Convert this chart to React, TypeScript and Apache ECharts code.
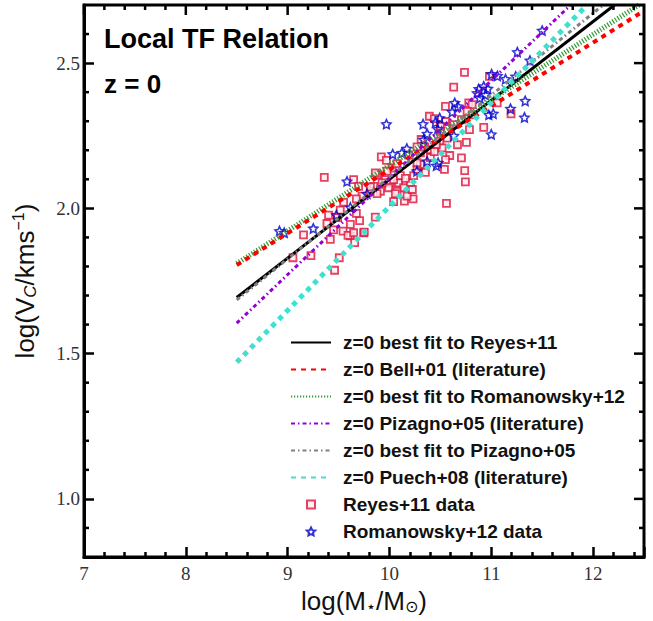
import React, { useEffect, useRef } from "react";
import * as echarts from "echarts";

const xMajorTicks = [7, 8, 9, 10, 11, 12];
const xMinorTicks = [7.2, 7.4, 7.6, 7.8, 8.2, 8.4, 8.6, 8.8, 9.2, 9.4, 9.6, 9.8, 10.2, 10.4, 10.6, 10.8, 11.2, 11.4, 11.6, 11.8, 12.2, 12.4];
const yMajorTicks = [1.0, 1.5, 2.0, 2.5];
const yMinorTicks = [0.9, 1.1, 1.2, 1.3, 1.4, 1.6, 1.7, 1.8, 1.9, 2.1, 2.2, 2.3, 2.4, 2.6];

// Fit / literature relations (endpoints)
const reyesFit = [[8.5, 1.693], [12.21, 2.7]];
const bellLit = [[8.5, 1.805], [12.5, 2.68]];
const romanowskyFit = [[8.5, 1.81], [12.45, 2.7]];
const pizagnoLit = [[8.5, 1.605], [11.78, 2.7]];
const pizagnoFit = [[8.5, 1.685], [12.1, 2.7]];
const puechLit = [[8.5, 1.47], [11.94, 2.7]];

const reyesData = [
  [10.737, 2.468], [10.631, 2.417], [10.982, 2.454], [10.55, 2.351], [10.779, 2.363],
  [10.812, 2.357], [10.763, 2.334], [10.812, 2.322], [11.058, 2.363], [11.194, 2.325],
  [10.392, 2.317], [10.441, 2.309], [10.55, 2.299], [10.631, 2.288], [10.707, 2.305],
  [10.926, 2.279], [10.786, 2.271], [10.501, 2.265], [10.566, 2.242], [10.494, 2.231],
  [10.517, 2.208], [10.402, 2.202], [10.461, 2.219], [9.92, 2.177], [10.592, 2.182],
  [10.707, 2.174], [10.756, 2.227], [10.54, 2.134], [10.739, 2.13], [10.746, 2.091],
  [10.56, 2.017], [10.232, 2.033], [10.147, 2.025], [10.041, 2.023], [9.861, 1.97],
  [9.707, 1.958], [9.746, 1.916], [9.616, 1.945], [9.616, 1.905], [9.97, 2.165],
  [10.026, 2.139], [10.075, 2.154], [9.976, 2.128], [9.96, 2.099], [10.009, 2.088],
  [10.091, 2.088], [10.14, 2.071], [10.206, 2.088], [10.238, 2.113], [10.271, 2.134],
  [10.304, 2.151], [10.353, 2.124], [10.075, 2.059], [10.173, 2.042], [10.041, 2.099],
  [9.992, 2.071], [9.927, 2.088], [9.845, 2.076], [9.812, 2.059], [9.911, 2.059],
  [9.648, 2.099], [9.697, 2.076], [9.731, 2.042], [9.544, 1.922], [9.593, 1.907],
  [9.648, 1.916], [9.419, 1.893], [9.658, 1.882], [9.507, 1.83], [9.461, 1.787],
  [9.36, 2.107], [9.517, 1.994], [9.402, 1.977], [9.386, 1.948], [9.491, 1.968],
  [9.156, 1.909], [9.229, 1.837], [9.052, 1.83], [9.878, 2.116], [9.812, 2.074],
  [9.878, 2.051], [9.55, 2.021], [9.675, 1.983], [9.451, 1.926], [9.861, 2.122],
  [9.675, 2.033], [9.753, 1.918], [10.189, 2.183], [10.304, 2.191], [10.271, 2.157],
  [10.311, 2.237], [10.346, 2.212], [10.271, 2.212], [10.501, 2.282], [10.107, 2.113],
  [10.157, 2.103], [10.402, 2.175], [10.441, 2.195], [10.225, 2.065], [10.058, 2.051],
  [10.55, 2.168], [10.668, 2.219]
];

const romanowskyData = [
  [11.5, 2.612], [11.256, 2.538], [11.38, 2.509], [11.003, 2.462], [11.06, 2.456],
  [11.14, 2.445], [11.24, 2.454], [10.877, 2.411], [10.926, 2.42], [10.966, 2.412],
  [10.861, 2.397], [10.943, 2.391], [11.333, 2.37], [11.189, 2.343], [11.326, 2.313],
  [10.641, 2.363], [10.671, 2.351], [10.616, 2.332], [9.97, 2.29], [10.33, 2.29],
  [10.451, 2.296], [10.494, 2.311], [10.474, 2.273], [10.37, 2.257], [10.336, 2.237],
  [11.0, 2.255], [11.019, 2.326], [10.976, 2.322], [10.032, 2.187], [10.122, 2.191],
  [10.171, 2.206], [10.633, 2.25], [10.37, 2.162], [10.461, 2.147], [10.478, 2.157],
  [10.269, 2.128], [9.78, 2.05], [9.583, 2.093], [9.616, 2.003], [9.478, 1.977],
  [8.92, 1.922], [8.967, 1.916], [9.252, 1.931], [10.887, 2.38]
];

const STAR = "path://M0,-10L2.9,-4L9.5,-3.1L4.7,1.5L5.9,8.1L0,5L-5.9,8.1L-4.7,1.5L-9.5,-3.1L-2.9,-4Z";
const SQUARE = "path://M0,0L10,0L10,10L0,10Z";

const legendNames = [
  "z=0 best fit to Reyes+11",
  "z=0 Bell+01 (literature)",
  "z=0 best fit to Romanowsky+12",
  "z=0 Pizagno+05 (literature)",
  "z=0 best fit to Pizagno+05",
  "z=0 Puech+08 (literature)",
  "Reyes+11 data",
  "Romanowsky+12 data",
];

const X_MIN = 7, X_MAX = 12.5, Y_MIN = 0.8, Y_MAX = 2.7;
const GRID = { left: 84, right: 9, top: 5, bottom: 64 };

export default function App() {
  const ref = useRef<HTMLDivElement>(null);
  const frameRef = useRef<HTMLDivElement>(null);
  useEffect(() => {
    if (!ref.current || !frameRef.current) return;
    const chart = echarts.init(ref.current, null, { renderer: "svg" });
    const frame = echarts.init(frameRef.current, null, { renderer: "svg" });
    const lineSeries = (name: string, data: number[][], color: string, width: number, type: any) => ({
      name, type: "line", data, symbol: "none", z: 3,
      lineStyle: { color, width, type },
      itemStyle: { color, opacity: 0 },
    });
    chart.setOption({
      animation: false,
      grid: GRID,
      xAxis: {
        type: "value", min: X_MIN, max: X_MAX,
        axisLine: { show: false }, axisTick: { show: false }, splitLine: { show: false },
        axisLabel: { show: true, customValues: xMajorTicks, margin: 7, fontFamily: "Liberation Serif", fontSize: 19, color: "#333", formatter: (v: number) => String(v) },
        name: "log(M{s|⋆}/M{s|⊙})",
        nameLocation: "middle",
        nameGap: 29,
        nameTextStyle: {
          fontFamily: "Liberation Sans", fontSize: 26, color: "#111",
          rich: { s: { fontFamily: "DejaVu Sans", fontSize: 16, color: "#111", padding: [12, 0, 0, 0] } },
        },
      },
      yAxis: {
        type: "value", min: Y_MIN, max: Y_MAX,
        axisLine: { show: false }, axisTick: { show: false }, splitLine: { show: false },
        axisLabel: { show: true, customValues: yMajorTicks, margin: 4, fontFamily: "Liberation Serif", fontSize: 19, color: "#333", formatter: (v: number) => v.toFixed(1) },
        name: "log(V{c|C}/kms{p|−1})",
        nameLocation: "middle",
        nameRotate: 90,
        nameGap: 45,
        nameTextStyle: {
          fontFamily: "Liberation Sans", fontSize: 26, color: "#111",
          rich: {
            c: { fontFamily: "Liberation Sans", fontStyle: "italic", fontSize: 17, color: "#111", padding: [11, 0, 0, 0] },
            p: { fontFamily: "Liberation Sans", fontSize: 16, color: "#111", padding: [0, 0, 13, 0] },
          },
        },
      },
      legend: {
        data: legendNames.map((n) =>
          n === "Reyes+11 data" ? { name: n, icon: SQUARE } : n === "Romanowsky+12 data" ? { name: n, icon: STAR } : { name: n }
        ),
        orient: "vertical",
        left: 285,
        top: 328,
        padding: 5,
        itemWidth: 40,
        itemHeight: 8,
        itemGap: 8,
        selectedMode: false,
        textStyle: { fontFamily: "Liberation Sans", fontWeight: "bold", fontSize: 19, color: "#111", padding: [0, 0, 0, 7] },
      },
      graphic: [
        { type: "text", left: 104, top: 25, style: { text: "Local TF Relation", fontFamily: "Liberation Sans", fontWeight: "bold", fontSize: 27, fill: "#000" } },
        { type: "text", left: 104, top: 71, style: { text: "z = 0", fontFamily: "Liberation Sans", fontWeight: "bold", fontSize: 26, fill: "#000" } },
      ],
      series: [
        {
          name: "Reyes+11 data", type: "scatter", data: reyesData, symbol: "rect", symbolSize: 7, z: 2,
          itemStyle: { color: "rgba(255,235,240,1)", borderColor: "#DC143C", borderWidth: 1.8 },
        },
        {
          name: "Romanowsky+12 data", type: "scatter", data: romanowskyData, symbol: STAR, symbolSize: 9, z: 2,
          itemStyle: { color: "rgba(255,255,255,0)", borderColor: "#0000CD", borderWidth: 1.6 },
        },
        lineSeries("z=0 best fit to Reyes+11", reyesFit, "#000000", 3, "solid"),
        lineSeries("z=0 best fit to Romanowsky+12", romanowskyFit, "#339933", 5, [1.2, 1.8]),
        lineSeries("z=0 Bell+01 (literature)", bellLit, "#FF0000", 4, [5, 5]),
        lineSeries("z=0 Pizagno+05 (literature)", pizagnoLit, "#9400D3", 3, [4, 3, 1.5, 3]),
        lineSeries("z=0 best fit to Pizagno+05", pizagnoFit, "#808080", 3, [4, 3, 1.5, 3]),
        lineSeries("z=0 Puech+08 (literature)", puechLit, "#40E0D0", 5, [5, 5]),
      ],
    });

    // Frame chart: box plus ticks (same structure that rendered ticks in testing)
    frame.setOption({
      animation: false,
      grid: { ...GRID, show: true, borderColor: "#000", borderWidth: 3 },
      xAxis: {
        type: "value", min: X_MIN, max: X_MAX, interval: 1,
        axisLine: { show: true, lineStyle: { color: "#000", width: 3 } },
        axisTick: { show: true, inside: true, length: 10, lineStyle: { color: "#000", width: 2.5 } },
        minorTick: { show: true, splitNumber: 5, length: 5, lineStyle: { color: "#000", width: 2.5 } },
        axisLabel: { show: false },
        splitLine: { show: false },
      },
      yAxis: {
        type: "value", min: Y_MIN, max: Y_MAX,
        axisLine: { show: true, lineStyle: { color: "#000", width: 3 } },
        axisTick: { show: true, inside: true, length: 10, customValues: yMajorTicks, lineStyle: { color: "#000", width: 2.5 } },
        axisLabel: { show: false, customValues: yMajorTicks },
        splitLine: { show: false },
      },
      series: [{ type: "line", data: reyesFit, symbol: "none", lineStyle: { opacity: 0 }, itemStyle: { opacity: 0 } }],
    });
    const items: any[] = [];
    const seg = (x1: number, y1: number, x2: number, y2: number) =>
      items.push({ type: "line", z: 50, shape: { x1, y1, x2, y2 }, style: { stroke: "#000", lineWidth: 2.5 } });
    try {
      const f = { xAxisIndex: 0, yAxisIndex: 0 };
      xMajorTicks.forEach((v) => {
        const t = frame.convertToPixel(f, [v, Y_MAX]) as number[];
        seg(t[0], t[1], t[0], t[1] + 10);
      });
      xMinorTicks.forEach((v) => {
        const t = frame.convertToPixel(f, [v, Y_MAX]) as number[];
        seg(t[0], t[1], t[0], t[1] + 5);
      });
      yMajorTicks.forEach((v) => {
        const r = frame.convertToPixel(f, [X_MAX, v]) as number[];
        seg(r[0], r[1], r[0] - 10, r[1]);
      });
      yMinorTicks.forEach((v) => {
        const l = frame.convertToPixel(f, [X_MIN, v]) as number[];
        const r = frame.convertToPixel(f, [X_MAX, v]) as number[];
        seg(l[0], l[1], l[0] + 5, l[1]);
        seg(r[0], r[1], r[0] - 5, r[1]);
      });
    } catch (e) {
      // ignore
    }
    frame.setOption({ graphic: items });

    return () => {
      chart.dispose();
      frame.dispose();
    };
  }, []);
  return (
    <>
      <div ref={ref} style={{ position: "fixed", left: 0, top: 0, width: 653, height: 621, background: "#fff" }} />
      <div ref={frameRef} style={{ position: "fixed", left: 0, top: 0, width: 653, height: 621, pointerEvents: "none" }} />
    </>
  );
}
